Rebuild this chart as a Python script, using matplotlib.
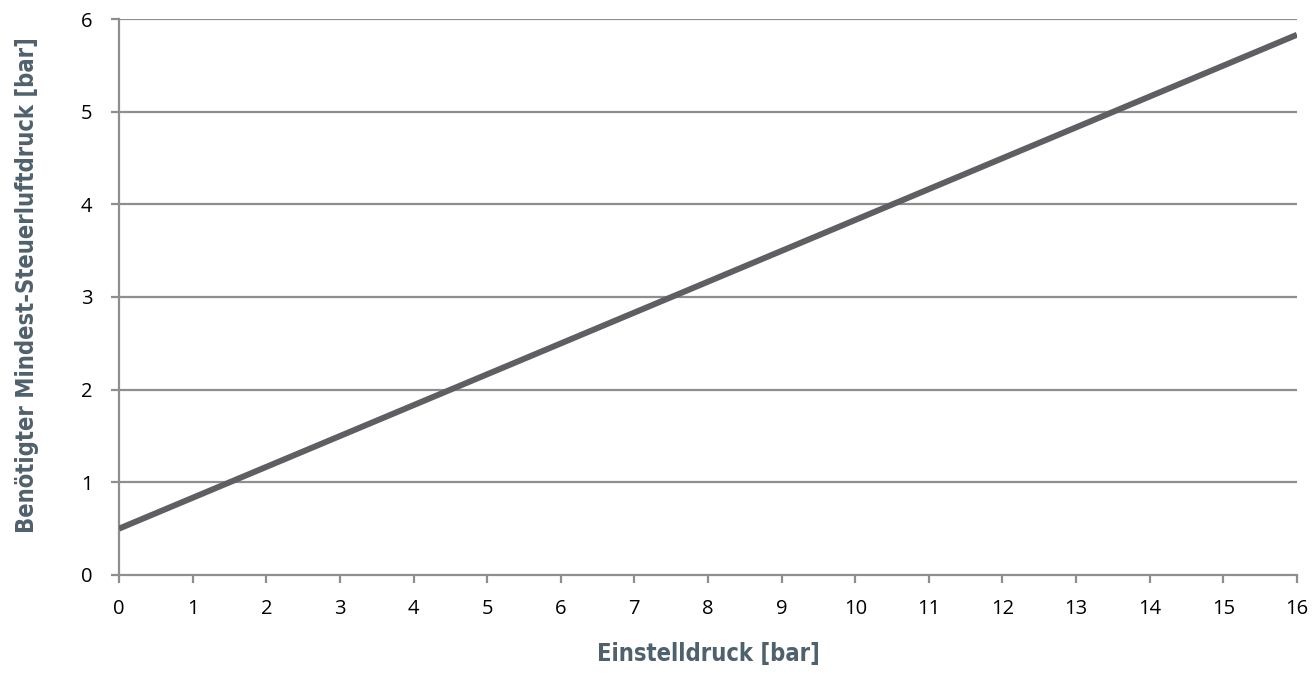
import matplotlib
matplotlib.use("Agg")
import matplotlib.pyplot as plt

x_vals = [0, 16]
y_vals = [0.5, 5.83]
x_ticks = list(range(0, 17))
y_ticks = list(range(0, 7))

label_font = "DejaVu Sans"
tick_font = "Open Sans"

fig = plt.figure(figsize=(13.15, 6.74), dpi=100)
ax = fig.add_axes([0.0905, 0.1469, 0.8958, 0.8249])

grid_c = "#8e8e8e"
for yt in y_ticks[1:]:
    ax.axhline(yt, color=grid_c, lw=1.6, zorder=1)

ax.plot(x_vals, y_vals, color="#5f5f63", lw=4.3, solid_capstyle="butt", zorder=3)

ax.set_xlim(0, 16)
ax.set_ylim(0, 6)
ax.set_xticks(x_ticks)
ax.set_yticks(y_ticks)
for s in ["top", "right"]:
    ax.spines[s].set_visible(False)
for s in ["left", "bottom"]:
    ax.spines[s].set_color(grid_c)
    ax.spines[s].set_linewidth(1.6)
ax.tick_params(axis="both", colors=grid_c, length=6, width=1.6, labelcolor="black", labelsize=14.5)
ax.tick_params(axis="x", pad=11)
ax.tick_params(axis="y", pad=13)
for lab in ax.get_xticklabels() + ax.get_yticklabels():
    lab.set_family(tick_font)

lc = "#4f616c"
ax.set_xlabel("Einstelldruck [bar]", fontsize=17, fontweight="bold", color=lc,
              family=label_font, stretch="condensed", labelpad=17)
ax.set_ylabel("Benötigter Mindest-Steuerluftdruck [bar]", fontsize=17, fontweight="bold",
              color=lc, family=label_font, stretch="condensed", labelpad=30)
ax.yaxis.label.set_y(0.521)

fig.savefig("out.png", dpi=100)
